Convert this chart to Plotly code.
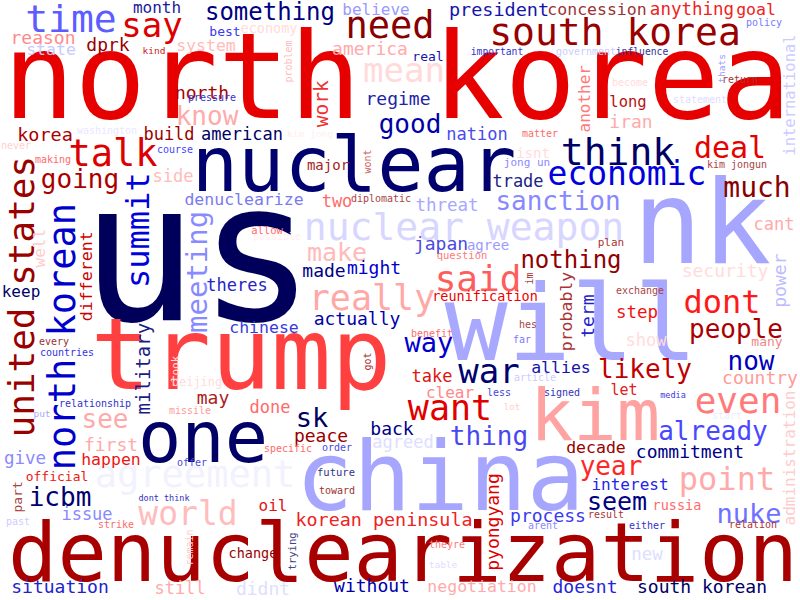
import plotly.graph_objects as go

FONT = "DejaVu Sans Mono"

# horizontal words: text, centre x, baseline y, font size, colour
h_words = [
    "north korea", "us", "trump", "nuclear", "denuclearization", "china", "will", "nk",
    "kim", "one", "nuclear weapon", "south korea", "really", "think", "economic",
    "agreement", "need", "said", "talk", "time", "want", "even", "mean", "say", "war",
    "world", "point", "dont", "deal", "much", "way", "sk", "year", "nuke", "know",
    "going", "something", "good", "thing", "already", "people", "likely", "now", "icbm",
    "see", "seem", "make", "sanction", "nothing",
    "month", "reason", "dprk", "state", "system", "north", "korea", "build", "side",
    "denuclearize", "keep", "theres", "made", "might", "actually", "chinese", "two",
    "threat", "japan", "agree", "reunification", "allies", "take", "clear", "cant",
    "security", "step", "show", "many", "country", "let", "decade", "commitment",
    "interest", "russia", "new", "south korean", "doesnt", "negotiation", "without",
    "process", "korean peninsula", "peace", "back", "agreed", "done", "may", "oil",
    "change", "didnt", "still", "situation", "first", "give", "happen", "official",
    "issue", "believe", "best", "economy", "america", "regime", "american", "major",
    "president", "concession", "real", "nation", "isnt", "trade", "anything", "goal",
    "long", "iran",
    "kind", "pressure", "washington", "never", "course", "making", "every", "countries",
    "beijing", "allow", "possible", "diplomatic", "question", "hes", "benefit", "far",
    "article", "less", "signed", "plan", "exchange", "media", "start", "result",
    "either", "relation", "lot", "arent", "theyre", "table", "specific", "order",
    "future", "toward", "relationship", "put", "missile", "offer", "dont think", "past",
    "strike", "important", "government", "influence", "kim jong", "matter", "jong un",
    "policy", "return", "become", "statement", "kim jongun",
]
h_x = [
    397, 198, 241, 354, 403, 440, 571, 702,
    595, 203, 464, 615, 372, 618, 627,
    195, 390, 478, 113, 71, 450, 738, 404, 152, 489,
    188, 727, 722, 730, 757, 429, 312, 611, 749, 207,
    80, 270, 410, 489, 713, 736, 645, 751, 60,
    105, 617, 337, 558, 571,
    157, 43, 108, 51, 206, 202, 45, 169, 173,
    244, 21, 237, 324, 374, 357, 264, 337,
    447, 441, 488, 485, 561, 432, 450, 774,
    725, 637, 646, 767, 760, 624, 596, 690,
    630, 677, 647, 702, 585, 482, 372,
    548, 384, 321, 392, 403, 270, 213, 273,
    253, 263, 180, 60, 111, 25, 111, 57,
    87, 376, 225, 269, 370, 398, 242, 328,
    499, 597, 428, 477, 533, 518, 692, 756,
    628, 631,
    154, 212, 107, 16, 175, 53, 54, 67,
    197, 267, 277, 381, 462, 528, 432, 522,
    535, 499, 562, 611, 640, 673, 727, 606,
    647, 753, 512, 543, 447, 443, 288, 337,
    336, 337, 95, 42, 190, 192, 164, 18,
    116, 497, 586, 642, 310, 540, 527,
    764, 740, 630, 700, 737,
]
h_base = [
    118, 320, 389, 191, 581, 510, 360, 263,
    440, 462, 240, 45, 310, 165, 185,
    487, 38, 291, 166, 32, 420, 413, 82, 37, 383,
    525, 490, 313, 158, 197, 352, 427, 475, 523, 125,
    188, 20, 133, 445, 440, 338, 378, 370, 506,
    428, 510, 261, 210, 268,
    13, 44, 51, 55, 51, 99, 141, 140, 182,
    205, 297, 291, 277, 274, 325, 333, 207,
    211, 250, 250, 301, 373, 382, 398, 230,
    277, 318, 346, 346, 384, 395, 453, 458,
    490, 510, 560, 593, 593, 592, 592,
    522, 526, 442, 435, 448, 413, 404, 511,
    558, 595, 594, 593, 451, 464, 465, 481,
    520, 15, 36, 33, 55, 105, 140, 170,
    16, 15, 61, 140, 158, 187, 15, 15,
    107, 128,
    54, 101, 134, 149, 153, 163, 345, 356,
    386, 234, 240, 202, 259, 328, 337, 343,
    381, 396, 396, 246, 294, 398, 419, 518,
    529, 528, 410, 529, 548, 568, 452, 451,
    476, 494, 407, 417, 414, 466, 501, 525,
    528, 55, 55, 55, 137, 137, 166,
    26, 83, 86, 103, 168,
]
h_size = [
    119, 195, 100, 77, 82, 96, 105, 115,
    72, 72, 38, 38, 35, 38, 33,
    37, 37, 36, 37, 38, 35, 36, 34, 34, 34,
    33, 32, 32, 30, 28, 27, 27, 26, 27, 26,
    26, 24, 26, 26, 26, 26, 26, 26, 26,
    26, 25, 25, 26, 24,
    16, 18, 18, 16.5, 16.5, 18, 18.5, 17, 17,
    16.5, 16, 17, 18, 18, 18, 16.5, 17,
    17.5, 18, 14, 13.5, 16.5, 17, 16, 17,
    18, 17.5, 17, 13, 18, 15, 16.5, 18,
    16, 13.5, 17.5, 18, 18, 16.5, 18,
    18, 18.4, 18, 18, 17, 17, 18, 16,
    13.5, 18, 17, 18, 18, 17.5, 16.5, 13,
    17, 16, 13, 13.5, 18, 18, 17, 14,
    18.5, 16.5, 13, 17, 14, 17, 17.5, 16.5,
    15.5, 18,
    9.5, 10, 10, 10, 10, 10, 10, 10,
    12, 10.5, 10, 10, 10.5, 10, 10, 10,
    10, 10, 10, 11, 10, 8.5, 10, 10,
    10, 10, 9, 10, 10, 9.5, 10, 10,
    10.5, 10, 10, 9.5, 10, 10, 8.5, 10,
    10, 9.7, 10, 9.7, 9.5, 10, 11,
    10, 10, 10, 10, 10,
]
h_color = [
    "#e60000", "#00005a", "#ff4040", "#00006e", "#a80000", "#a6a6ff", "#a8a8ff", "#a6a6ff",
    "#ffa2a2", "#000066", "#d6d6ff", "#990000", "#ffa8a8", "#000066", "#0000dd",
    "#f2f2ff", "#880000", "#ff5c5c", "#dd0000", "#5c5cff", "#e00000", "#ff7a7a", "#ffdada", "#dd0000", "#00006e",
    "#ffbcbc", "#ffaaaa", "#ff1a1a", "#e80000", "#880000", "#0000cc", "#00005e", "#ff2828", "#7070ff", "#ffaaaa",
    "#aa0000", "#000080", "#0000a8", "#4848f0", "#4848ff", "#aa0000", "#c00000", "#0000bb", "#000070",
    "#ffaaaa", "#000080", "#ffbaba", "#8888ff", "#900000",
    "#1a1a99", "#ff8a8a", "#990000", "#cacaff", "#ffbcbc", "#aa0000", "#aa0000", "#990000", "#ffbcbc",
    "#7a7aee", "#000066", "#2424cc", "#000088", "#0000cc", "#0000aa", "#3a3ae0", "#ff6a6a",
    "#a8a8ff", "#4a4ae0", "#9a9aff", "#ee0000", "#1414aa", "#dd1414", "#ff8888", "#ffaaaa",
    "#ffdcdc", "#ee1414", "#ffdcdc", "#ee8888", "#ff9a9a", "#dd2020", "#990000", "#000088",
    "#2424ee", "#ff6a6a", "#dedeff", "#000066", "#2424dd", "#ffaaaa", "#0000aa",
    "#3a3aee", "#ee2222", "#990000", "#000088", "#dedeff", "#ff6a6a", "#aa2020", "#dd1414",
    "#990000", "#dedeff", "#ffaaaa", "#2222cc", "#ffaaaa", "#8a8aff", "#ee1414", "#ee1414",
    "#8a8aff", "#9a9aff", "#3a3aee", "#ffdcdc", "#ffaaaa", "#2222aa", "#000066", "#aa2222",
    "#1414aa", "#993333", "#1414aa", "#4a4aee", "#ffdcdc", "#222288", "#ee2222", "#ee2222",
    "#bb1111", "#ffaaaa",
    "#cc2222", "#3333cc", "#e8e8ff", "#ffd0d0", "#4444ff", "#ff6a6a", "#993333", "#3333dd",
    "#ffdcdc", "#ff6a6a", "#ffeeee", "#aa4444", "#ff7a7a", "#aa4444", "#ff6a6a", "#7a7aff",
    "#ccccff", "#4444dd", "#3333bb", "#aa3333", "#aa4444", "#3a3add", "#eeeeff", "#aa3333",
    "#3333cc", "#aa3333", "#ffcccc", "#8a8aff", "#ff7a7a", "#dedeff", "#ff6a6a", "#4a4add",
    "#333388", "#993333", "#3333cc", "#aaaaff", "#ff9a9a", "#4a4add", "#3333bb", "#ccccff",
    "#ff6a6a", "#3333cc", "#ccccff", "#333399", "#ffeeee", "#ff6a6a", "#8a8aff",
    "#7a7aff", "#aa3333", "#ffdcdc", "#dedeff", "#aa4444",
]

# vertical words (read upwards): text, baseline x, centre y, font size, colour
v_words = [
    "united states", "north korean", "summit", "meeting", "military", "different",
    "well", "look", "got", "im", "probably", "term", "power", "administration",
    "pyongyang", "trying", "part", "remain", "problem", "work", "wont", "another",
    "international", "thats",
]
v_base = [33, 75, 149, 207, 150, 92, 45, 179, 370, 532, 572, 593, 785, 795,
          498, 296, 21, 192, 291, 328, 370, 590, 795, 724]
v_y = [297, 337, 230, 272, 368, 276, 248, 369, 362, 279, 311, 316, 281, 458,
       522, 551, 497, 548, 62, 104, 162, 98, 95, 68]
v_size = [36, 37, 32, 29, 19, 16.6, 16, 11, 10, 10, 16.5, 18, 18, 16,
          18, 10.5, 13, 10, 10, 19.5, 10, 16, 15.5, 9.5]
v_color = ["#990000", "#0000cc", "#0000dd", "#8a8aff", "#1a1a88", "#cc0000",
           "#ffcccc", "#ffdddd", "#aa3333", "#aa3333", "#aa3333", "#2222cc",
           "#bcbcff", "#ffcccc", "#dd0000", "#444488", "#aa4444", "#ffcccc",
           "#ffbbbb", "#ee3333", "#cc6666", "#ff7a7a", "#ccccff", "#9a9aff"]

# plotly puts the baseline 0.25em below a middle-anchored text point
h_y = [b - 0.25 * s for b, s in zip(h_base, h_size)]

fig = go.Figure()
fig.add_trace(go.Scatter(
    x=h_x, y=h_y, mode="text", text=h_words,
    textposition="middle center",
    textfont=dict(family=FONT, size=h_size, color=h_color),
    hoverinfo="skip", showlegend=False, cliponaxis=False,
))

for w, bx, cy, s, c in zip(v_words, v_base, v_y, v_size, v_color):
    fig.add_annotation(
        x=bx - 0.346 * s, y=cy, xref="x", yref="y", text=w, textangle=-90,
        showarrow=False, xanchor="center", yanchor="middle", borderpad=0, borderwidth=0,
        font=dict(family=FONT, size=s, color=c),
    )

fig.update_xaxes(range=[0, 800], visible=False, fixedrange=True)
fig.update_yaxes(range=[600, 0], visible=False, fixedrange=True)
fig.update_layout(
    width=800, height=600, margin=dict(l=0, r=0, t=0, b=0),
    paper_bgcolor="white", plot_bgcolor="white",
)
# the page body has a default 8px margin, drop it so the figure sits at 0,0
fig.write_html("out.html", config={"displayModeBar": False},
               post_script="document.body.style.margin='0';")
